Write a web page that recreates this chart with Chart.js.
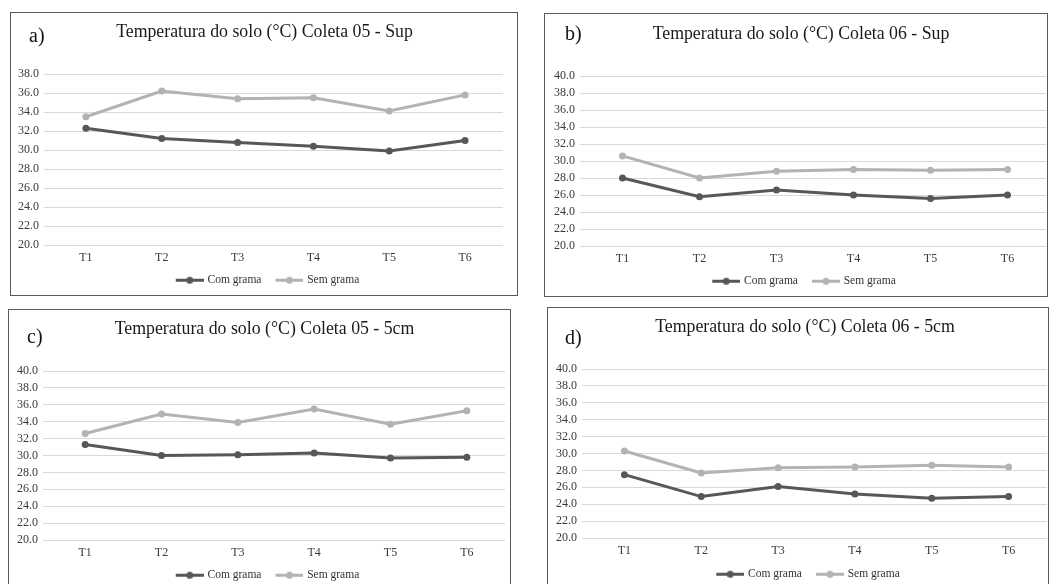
<!DOCTYPE html>
<html>
<head>
<meta charset="utf-8">
<script src="https://cdn.jsdelivr.net/npm/chart.js@4.4.1/dist/chart.umd.min.js"></script>
<style>
  html, body { margin: 0; padding: 0; background: #fff; }
  body { width: 1049px; height: 584px; position: relative; overflow: hidden; }
  .panel { position: absolute; box-sizing: border-box; border: 1px solid #5a5a5a; overflow: hidden; background: #fff; }
  .panel canvas { position: absolute; left: 0; top: 0; }
  .letter { position: absolute; font-family: 'Liberation Serif', serif; font-size: 20px; line-height: 20px; color: #111; }
</style>
</head>
<body>
<script>
const categories = ['T1', 'T2', 'T3', 'T4', 'T5', 'T6'];
const seriesNames = ['Com grama', 'Sem grama'];
const yMin = 20;
const yStep = 2;

// a) Coleta 05 - Sup
const comGrama05Sup = [32.3, 31.2, 30.8, 30.4, 29.9, 31.0];
const semGrama05Sup = [33.5, 36.2, 35.4, 35.5, 34.1, 35.8];
// b) Coleta 06 - Sup
const comGrama06Sup = [28.0, 25.8, 26.6, 26.0, 25.6, 26.0];
const semGrama06Sup = [30.6, 28.0, 28.8, 29.0, 28.9, 29.0];
// c) Coleta 05 - 5cm
const comGrama05cm5 = [31.3, 30.0, 30.1, 30.3, 29.7, 29.8];
const semGrama05cm5 = [32.6, 34.9, 33.9, 35.5, 33.7, 35.3];
// d) Coleta 06 - 5cm
const comGrama06cm5 = [27.5, 24.9, 26.1, 25.2, 24.7, 24.9];
const semGrama06cm5 = [30.3, 27.7, 28.3, 28.4, 28.6, 28.4];

const titles = [
  'Temperatura do solo (°C) Coleta 05 - Sup',
  'Temperatura do solo (°C) Coleta 06 - Sup',
  'Temperatura do solo (°C) Coleta 05 - 5cm',
  'Temperatura do solo (°C) Coleta 06 - 5cm'
];
const letters = ['a)', 'b)', 'c)', 'd)'];
const yMaxes = [38, 40, 40, 40];

const FONT = "'Liberation Serif', 'Times New Roman', serif";
const DARK = '#575757';
const LIGHT = '#b3b3b3';
const TITLE_SIZE = 17.8;
const LEGEND_SIZE = 11.5;
const LEGEND_PAD = 8;

// box = outer frame, plot = chart area in canvas px, cx = centre of title/legend
const panels = [
  { com: comGrama05Sup, sem: semGrama05Sup, box: { left: 10, top: 12, w: 508, h: 284 },
    plot: { left: 37, right: 492, top: 61, bottom: 232 }, titleY: 17, legendY: 267, cx: 253.5, letter: { x: 29, y: 25 } },
  { com: comGrama06Sup, sem: semGrama06Sup, box: { left: 544, top: 13, w: 504, h: 284 },
    plot: { left: 39, right: 501, top: 62, bottom: 232 }, titleY: 18, legendY: 267, cx: 256, letter: { x: 565, y: 23 } },
  { com: comGrama05cm5, sem: semGrama05cm5, box: { left: 8, top: 309, w: 503, h: 300 },
    plot: { left: 38, right: 496, top: 61, bottom: 230 }, titleY: 17, legendY: 265, cx: 255.5, letter: { x: 27, y: 326 } },
  { com: comGrama06cm5, sem: semGrama06cm5, box: { left: 547, top: 307, w: 502, h: 300 },
    plot: { left: 38, right: 499, top: 61, bottom: 230 }, titleY: 17, legendY: 266, cx: 257, letter: { x: 565, y: 327 } }
];

function legendIcon(color) {
  const c = document.createElement('canvas');
  c.width = 36;
  c.height = 9;
  const g = c.getContext('2d');
  g.strokeStyle = color;
  g.lineWidth = 3;
  g.beginPath();
  g.moveTo(8, 4.5);
  g.lineTo(36, 4.5);
  g.stroke();
  g.fillStyle = color;
  g.beginPath();
  g.arc(22, 4.5, 3.5, 0, Math.PI * 2);
  g.fill();
  return c;
}
const icons = [legendIcon(DARK), legendIcon(LIGHT)];

function drawPanel(p, i) {
  const box = document.createElement('div');
  box.className = 'panel';
  box.style.left = p.box.left + 'px';
  box.style.top = p.box.top + 'px';
  box.style.width = p.box.w + 'px';
  box.style.height = p.box.h + 'px';
  document.body.appendChild(box);

  const canvasW = p.box.w + 30;
  const legendH = LEGEND_PAD + LEGEND_SIZE + 10;
  const canvasH = Math.round(p.legendY + legendH - LEGEND_PAD - LEGEND_SIZE / 2);
  const canvas = document.createElement('canvas');
  canvas.width = canvasW;
  canvas.height = canvasH;
  box.appendChild(canvas);

  const lbl = document.createElement('div');
  lbl.className = 'letter';
  lbl.textContent = letters[i];
  lbl.style.left = p.letter.x + 'px';
  lbl.style.top = p.letter.y + 'px';
  document.body.appendChild(lbl);

  const line = (label, data, color) => ({
    label: label,
    data: data,
    borderColor: color,
    backgroundColor: color,
    pointBackgroundColor: color,
    pointBorderWidth: 0,
    pointRadius: 3.5,
    borderWidth: 3,
    tension: 0
  });

  const half = TITLE_SIZE * 1.2 / 2;
  const ty = p.titleY + 2;

  new Chart(canvas, {
    type: 'line',
    data: {
      labels: categories,
      datasets: [line(seriesNames[0], p.com, DARK), line(seriesNames[1], p.sem, LIGHT)]
    },
    options: {
      responsive: false,
      animation: false,
      devicePixelRatio: 1,
      layout: { padding: { left: 0, right: canvasW - 2 * p.cx, top: 0, bottom: 0 } },
      plugins: {
        title: {
          display: true,
          text: titles[i],
          color: '#1a1a1a',
          font: { family: FONT, size: TITLE_SIZE, weight: 'normal', lineHeight: 1.2 },
          padding: { top: ty - half, bottom: p.plot.top - ty - half }
        },
        legend: {
          position: 'bottom',
          labels: {
            usePointStyle: true,
            pointStyleWidth: 32,
            padding: LEGEND_PAD,
            color: '#333',
            font: { family: FONT, size: LEGEND_SIZE },
            generateLabels: (chart) => chart.data.datasets.map((ds, k) => ({
              text: ds.label,
              pointStyle: icons[k],
              fillStyle: ds.borderColor,
              strokeStyle: ds.borderColor,
              lineWidth: 0,
              hidden: false,
              datasetIndex: k,
              fontColor: '#333'
            }))
          }
        },
        tooltip: { enabled: false }
      },
      scales: {
        x: {
          offset: true,
          grid: { display: false, drawTicks: false },
          border: { display: false },
          ticks: { padding: 6, color: '#3a3a3a', font: { family: FONT, size: 12 } },
          afterFit: (s) => { s.height = canvasH - legendH - p.plot.bottom; }
        },
        y: {
          min: yMin,
          max: yMaxes[i],
          grid: { color: '#d9d9d9', tickColor: '#d9d9d9', tickLength: 4 },
          border: { display: false },
          ticks: {
            stepSize: yStep,
            autoSkip: false,
            padding: 5,
            color: '#3a3a3a',
            font: { family: FONT, size: 12 },
            callback: (v) => v.toFixed(1)
          },
          afterFit: (s) => { s.width = p.plot.left; }
        },
        // empty spacer on the right so the title and legend centre where the original has them
        yr: {
          position: 'right',
          grid: { display: false },
          border: { display: false },
          ticks: { display: false },
          afterFit: (s) => { s.width = 2 * p.cx - p.plot.right; }
        }
      }
    }
  });
}

panels.forEach(drawPanel);
</script>
</body>
</html>
